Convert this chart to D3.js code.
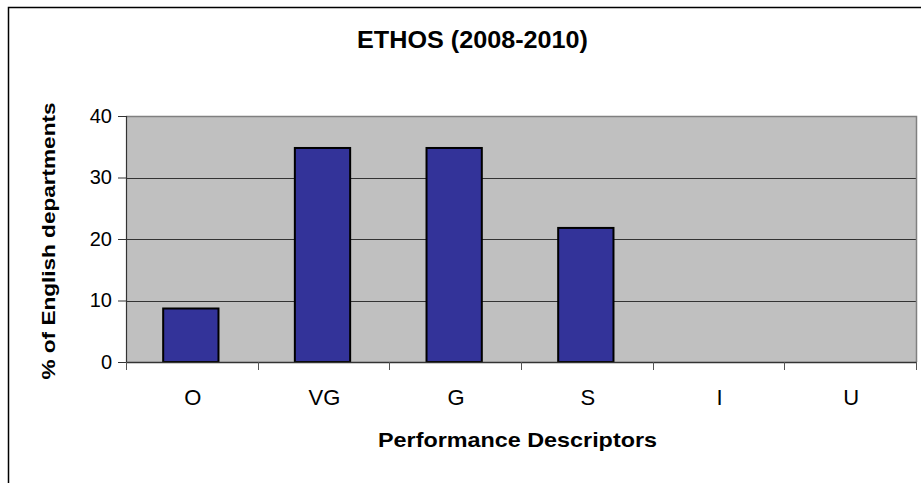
<!DOCTYPE html>
<html>
<head>
<meta charset="utf-8">
<script src="https://cdn.jsdelivr.net/npm/d3@7"></script>
<style>
  html, body { margin: 0; padding: 0; background: #fff; }
  svg { display: block; font-family: "Liberation Sans", Arial, sans-serif; }
</style>
</head>
<body>
<svg id="chart" width="921" height="483"></svg>
<script>
const categories = ["O", "VG", "G", "S", "I", "U"];
const values = [8.7, 34.8, 34.8, 21.8, 0, 0];
const yTicks = [0, 10, 20, 30, 40];
const chartTitle = "ETHOS (2008-2010)";
const xTitle = "Performance Descriptors";
const yTitle = "% of English departments";

const svg = d3.select("#chart");
const plot = { left: 126, right: 916, top: 116, bottom: 362 };
const FONT = "'Liberation Sans', Arial, sans-serif";

// outer frame
svg.append("rect")
  .attr("x", 8.5).attr("y", 7.5)
  .attr("width", 930).attr("height", 490)
  .attr("fill", "#fff").attr("stroke", "#000").attr("stroke-width", 1.5);

const x = d3.scaleBand().domain(categories).range([plot.left, plot.right]).paddingInner(0).paddingOuter(0);
const y = d3.scaleLinear().domain([0, 40]).range([plot.bottom, plot.top]);

// plot background
svg.append("rect")
  .attr("x", plot.left).attr("y", plot.top)
  .attr("width", plot.right - plot.left).attr("height", plot.bottom - plot.top)
  .attr("fill", "#c0c0c0");

// gridlines
svg.append("g").selectAll("line").data(yTicks.filter(d => d > 0 && d < 40)).join("line")
  .attr("x1", plot.left).attr("x2", plot.right)
  .attr("y1", d => Math.round(y(d)) + 0.5).attr("y2", d => Math.round(y(d)) + 0.5)
  .attr("stroke", "#333").attr("stroke-width", 1);

// plot border top/right grey
svg.append("path")
  .attr("d", `M${plot.left},${plot.top + 0.5}H${plot.right + 0.5}V${plot.bottom}`)
  .attr("fill", "none").attr("stroke", "#808080").attr("stroke-width", 1.5);

// bars
const barW = x.bandwidth() * 0.42;
svg.append("g").selectAll("rect").data(categories.map((c, i) => ({ c, v: values[i] })).filter(d => d.v > 0)).join("rect")
  .attr("x", d => x(d.c) + (x.bandwidth() - barW) / 2 - 1)
  .attr("y", d => y(d.v))
  .attr("width", barW)
  .attr("height", d => y(0) - y(d.v))
  .attr("fill", "#333399").attr("stroke", "#000").attr("stroke-width", 2);

// y axis
const yAxis = d3.axisLeft(y).tickValues(yTicks).tickSize(8).tickPadding(6);
const gy = svg.append("g").attr("transform", `translate(${plot.left},0)`).call(yAxis);
gy.attr("font-size", null).attr("font-family", null);
gy.select(".domain").attr("stroke", "#333").attr("stroke-width", 1.2);
gy.selectAll(".tick line").attr("stroke", "#333");
gy.selectAll(".tick text").attr("font-size", 20).attr("fill", "#000").attr("font-family", FONT);

// x axis
const xAxis = d3.axisBottom(x).tickSize(0).tickPadding(0);
const gx = svg.append("g").attr("transform", `translate(0,${plot.bottom})`).call(xAxis);
gx.attr("font-size", null).attr("font-family", null);
gx.select(".domain").attr("stroke", "#333").attr("stroke-width", 1.5);
gx.selectAll(".tick text").attr("font-size", 22).attr("fill", "#000").attr("font-family", FONT)
  .attr("dy", null).attr("y", 43).attr("x", 1);
// category boundary ticks
const bounds = categories.map(c => x(c)).concat([plot.right]);
svg.append("g").selectAll("line").data(bounds).join("line")
  .attr("x1", d => Math.round(d) + 0.5).attr("x2", d => Math.round(d) + 0.5)
  .attr("y1", plot.bottom).attr("y2", plot.bottom + 8)
  .attr("stroke", "#555").attr("stroke-width", 1);

// titles
svg.append("text").attr("x", 472.5).attr("y", 48).attr("text-anchor", "middle")
  .attr("font-size", 23).attr("font-weight", "bold")
  .attr("textLength", 231).attr("lengthAdjust", "spacingAndGlyphs").text(chartTitle);
svg.append("text").attr("x", 517.5).attr("y", 447).attr("text-anchor", "middle")
  .attr("font-size", 21).attr("font-weight", "bold")
  .attr("textLength", 279).attr("lengthAdjust", "spacingAndGlyphs").text(xTitle);
svg.append("text").attr("transform", "translate(55,241) rotate(-90)").attr("text-anchor", "middle")
  .attr("font-size", 19).attr("font-weight", "bold")
  .attr("textLength", 277).attr("lengthAdjust", "spacingAndGlyphs").text(yTitle);
</script>
</body>
</html>
